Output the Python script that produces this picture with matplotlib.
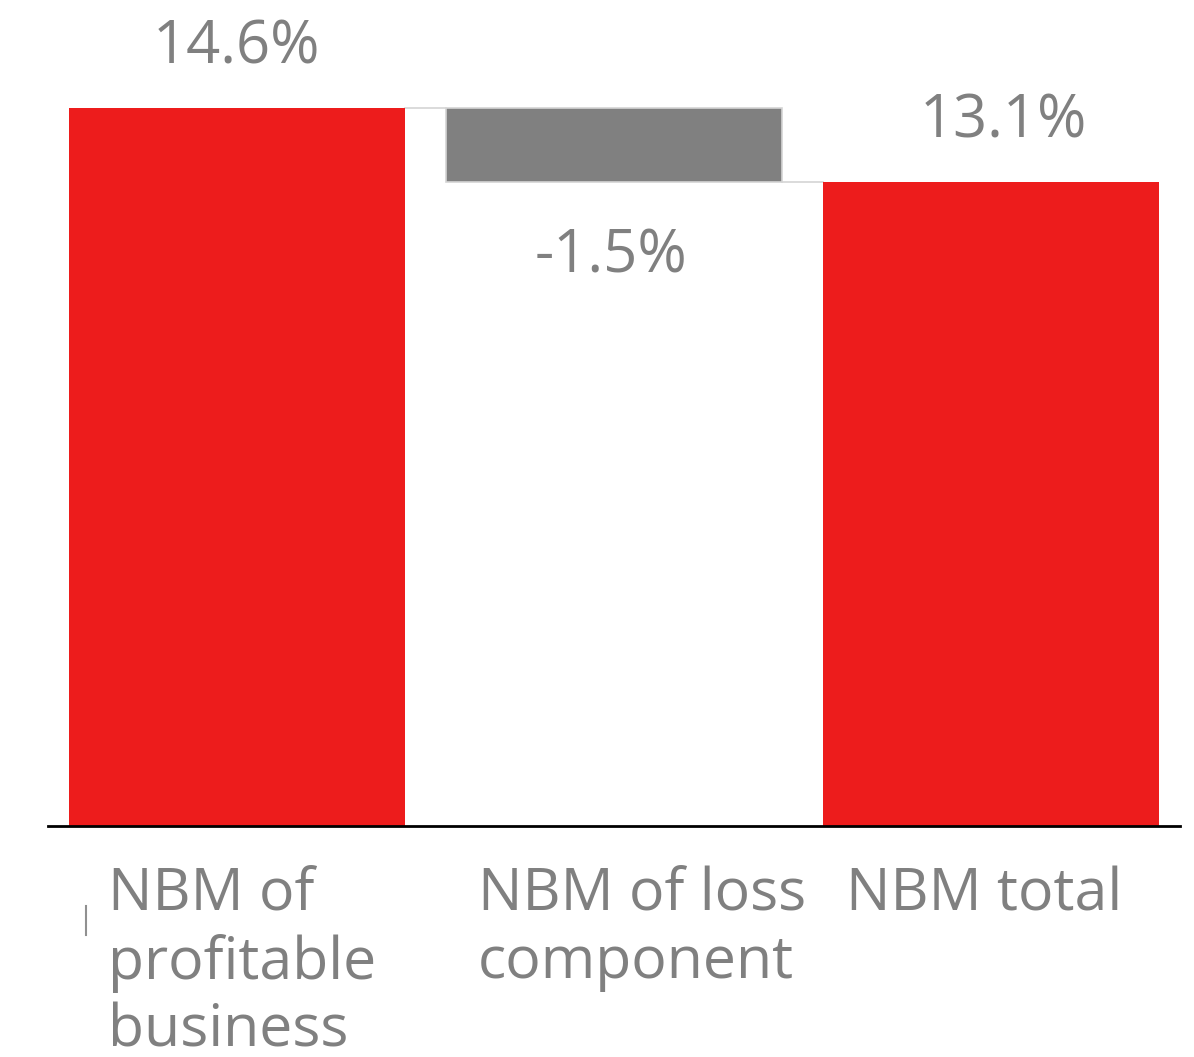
import matplotlib
matplotlib.use("Agg")
import matplotlib.pyplot as plt
from matplotlib.lines import Line2D

plt.rcParams['font.family'] = ['Open Sans', 'DejaVu Sans']

categories = ["NBM of\nprofitable\nbusiness", "NBM of loss\ncomponent", "NBM total"]
values = [14.6, -1.5, 13.1]
value_labels = ["14.6%", "-1.5%", "13.1%"]
kinds = ["total", "delta", "total"]

RED = "#ED1C1C"
GREY = "#808080"
TEXT = "#808080"

fig = plt.figure(figsize=(11.94, 10.57), dpi=100)
ax = fig.add_axes([48/1194, 231/1057, 1132/1194, 787/1057])

bottoms, heights, colors = [], [], []
running = 0.0
for v, k in zip(values, kinds):
    if k == "total":
        bottoms.append(0.0); heights.append(v); colors.append(RED)
        running = v
    else:
        new = running + v
        bottoms.append(min(running, new)); heights.append(abs(v)); colors.append(GREY)
        running = new

x = list(range(len(values)))
w = 0.89
ax.bar(x, heights, bottom=bottoms, width=w, color=colors, edgecolor="none", zorder=2)
for i, k in enumerate(kinds):
    if k == "delta":
        ax.bar(x[i], heights[i], bottom=bottoms[i], width=w, color="none",
               edgecolor="#d4d4d4", linewidth=1.2, zorder=3)

levels = []
running = 0.0
for v, k in zip(values, kinds):
    running = v if k == "total" else running + v
    levels.append(running)
for i in range(len(values) - 1):
    ax.plot([x[i] + w/2, x[i+1] - w/2], [levels[i], levels[i]],
            color="#d4d4d4", lw=1.2, zorder=1)

label_dx = [0, -2, 9]
for i, (v, k) in enumerate(zip(values, kinds)):
    top = bottoms[i] + heights[i]
    if v >= 0:
        ax.annotate(value_labels[i], (x[i], top), xytext=(label_dx[i], 22), textcoords="offset points",
                    ha="center", va="bottom", fontsize=43, color=TEXT, annotation_clip=False)
    else:
        ax.annotate(value_labels[i], (x[i], bottoms[i]), xytext=(label_dx[i], -32), textcoords="offset points",
                    ha="center", va="top", fontsize=43, color=TEXT, annotation_clip=False)

left_offsets = [-0.342, -0.36, -0.384]
for i, c in enumerate(categories):
    ax.annotate(c, (x[i] + left_offsets[i], 0), xycoords=("data", "axes fraction"),
                xytext=(0, -29), textcoords="offset points", ha="left", va="top",
                fontsize=42.5, color=TEXT, linespacing=1.2, annotation_clip=False)

ax.set_xlim(-0.5, 2.5)
ax.set_ylim(0, 16)
for s in ["top", "right", "left"]:
    ax.spines[s].set_visible(False)
ax.spines["bottom"].set_color("black")
ax.spines["bottom"].set_linewidth(2)
ax.set_xticks([]); ax.set_yticks([])

fig.add_artist(Line2D([86/1194, 86/1194], [1 - 906/1057, 1 - 935/1057],
                      color="#909090", lw=1.5))

fig.savefig("out.png", dpi=100, facecolor="white")
